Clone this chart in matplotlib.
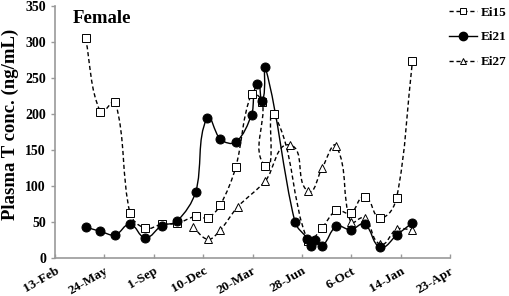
import numpy as np
import matplotlib
matplotlib.use('Agg')
import matplotlib.pyplot as plt
from matplotlib.path import Path
from matplotlib.patches import PathPatch
from matplotlib.lines import Line2D

# days counted from 13-Feb (axis spans 800 days, ticks every 100)
tick_days = [0, 100, 200, 300, 400, 500, 600, 700, 800]
tick_labels = ['13-Feb', '24-May', '1-Sep', '10-Dec', '20-Mar',
               '28-Jun', '6-Oct', '14-Jan', '23-Apr']

ei15_days = [62, 92, 122, 152, 183, 216, 247, 285, 310, 335, 366, 398, 420,
             426, 443, 512, 541, 570, 599, 627, 659, 692, 724]
ei15_vals = [305, 203, 217, 62, 41, 47, 48, 58, 56, 74, 126, 228, 216,
             128, 200, 24, 42, 66, 62, 85, 56, 84, 274]

ei21_days = [62, 92, 122, 152, 183, 216, 247, 285, 308, 335, 366, 398, 410,
             420, 426, 486, 511, 519, 527, 541, 570, 599, 627, 659, 692, 724]
ei21_vals = [43, 37, 32, 47, 28, 45, 51, 92, 195, 165, 161, 199, 242,
             218, 265, 50, 27, 17, 25, 17, 44, 39, 47, 15, 32, 49]

ei27_days = [279, 310, 335, 370, 426, 476, 512, 541, 570, 599, 627, 659, 692, 724]
ei27_vals = [43, 26, 39, 71, 107, 157, 93, 125, 155, 50, 56, 19, 40, 39]

plt.rcParams['font.family'] = ['Liberation Serif', 'DejaVu Serif']
plt.rcParams['font.weight'] = 'bold'


def smooth_path(ax, xs, ys):
    """Excel-like smoothed line through the points, built as cubic Beziers."""
    pts = ax.transData.transform(np.column_stack((xs, ys)))
    n = len(pts)
    verts = [pts[0]]
    codes = [Path.MOVETO]
    for i in range(n - 1):
        p0 = pts[max(i - 1, 0)]
        p1 = pts[i]
        p2 = pts[i + 1]
        p3 = pts[min(i + 2, n - 1)]
        d = np.hypot(*(p2 - p1))
        t1 = p2 - p0
        t2 = p3 - p1
        t1 = t1 / (np.hypot(*t1) or 1)
        t2 = t2 / (np.hypot(*t2) or 1)
        c1 = p1 + t1 * d / 3
        c2 = p2 - t2 * d / 3
        verts += [c1, c2, p2]
        codes += [Path.CURVE4] * 3
    verts = ax.transData.inverted().transform(np.array(verts))
    return Path(verts, codes)


fig = plt.figure(figsize=(5.09, 2.96), dpi=100)
ax = fig.add_axes([55 / 509, 1 - 258 / 296, 395 / 509, 252 / 296])
ax.set_xlim(0, 800)
ax.set_ylim(0, 350)

dash = (0, (3, 2))
series = [
    (ei15_days, ei15_vals, dash, dict(marker='s', ms=6, mfc='white', mec='black', mew=0.7)),
    (ei27_days, ei27_vals, dash, dict(marker='^', ms=6, mfc='white', mec='black', mew=0.7)),
    (ei21_days, ei21_vals, '-', dict(marker='o', ms=6.5, mfc='black', mec='black', mew=0.7)),
]
for xs, ys, ls, mk in series:
    ax.add_patch(PathPatch(smooth_path(ax, xs, ys), fill=False, edgecolor='black',
                           lw=1.0, linestyle=ls, zorder=2))
    ax.plot(xs, ys, linestyle='none', zorder=3, clip_on=False, **mk)

ax.set_xticks(tick_days)
ax.set_xticklabels(tick_labels, rotation=30, ha='right', rotation_mode='anchor')
ax.set_yticks(range(0, 351, 50))
ax.tick_params(axis='y', labelsize=10, length=3, color='#999999', width=1)
ax.tick_params(axis='x', labelsize=9.5, length=3, direction='in',
               color='#999999', width=1, pad=5)
for lbl in ax.get_xticklabels() + ax.get_yticklabels():
    lbl.set_fontweight('bold')

for s in ['top', 'right']:
    ax.spines[s].set_visible(False)
for s in ['left', 'bottom']:
    ax.spines[s].set_color('#999999')
    ax.spines[s].set_linewidth(1.2)

ax.set_ylabel('Plasma T conc. (ng/mL)', fontsize=13.5, fontweight='bold')
ax.yaxis.set_label_coords(-0.09, 0.53)
ax.text(0.045, 0.985, 'Female', transform=ax.transAxes, fontsize=13.5,
        fontweight='bold', va='top', ha='left')

handles = [
    Line2D([], [], color='black', lw=1.0, linestyle=dash, marker='s', ms=5,
           mfc='white', mec='black', mew=0.7),
    Line2D([], [], color='black', lw=1.0, linestyle='-', marker='o', ms=6,
           mfc='black', mec='black'),
    Line2D([], [], color='black', lw=1.0, linestyle=dash, marker='^', ms=5,
           mfc='white', mec='black', mew=0.7),
]
fig.legend(handles, ['Ei15', 'Ei21', 'Ei27'], loc='upper left',
           bbox_to_anchor=(441 / 509, 1.005), frameon=False,
           prop={'weight': 'bold', 'size': 9.5}, handlelength=2.1,
           handletextpad=0.3, labelspacing=0.95, borderpad=0.1)

fig.savefig('out.png', dpi=100)
